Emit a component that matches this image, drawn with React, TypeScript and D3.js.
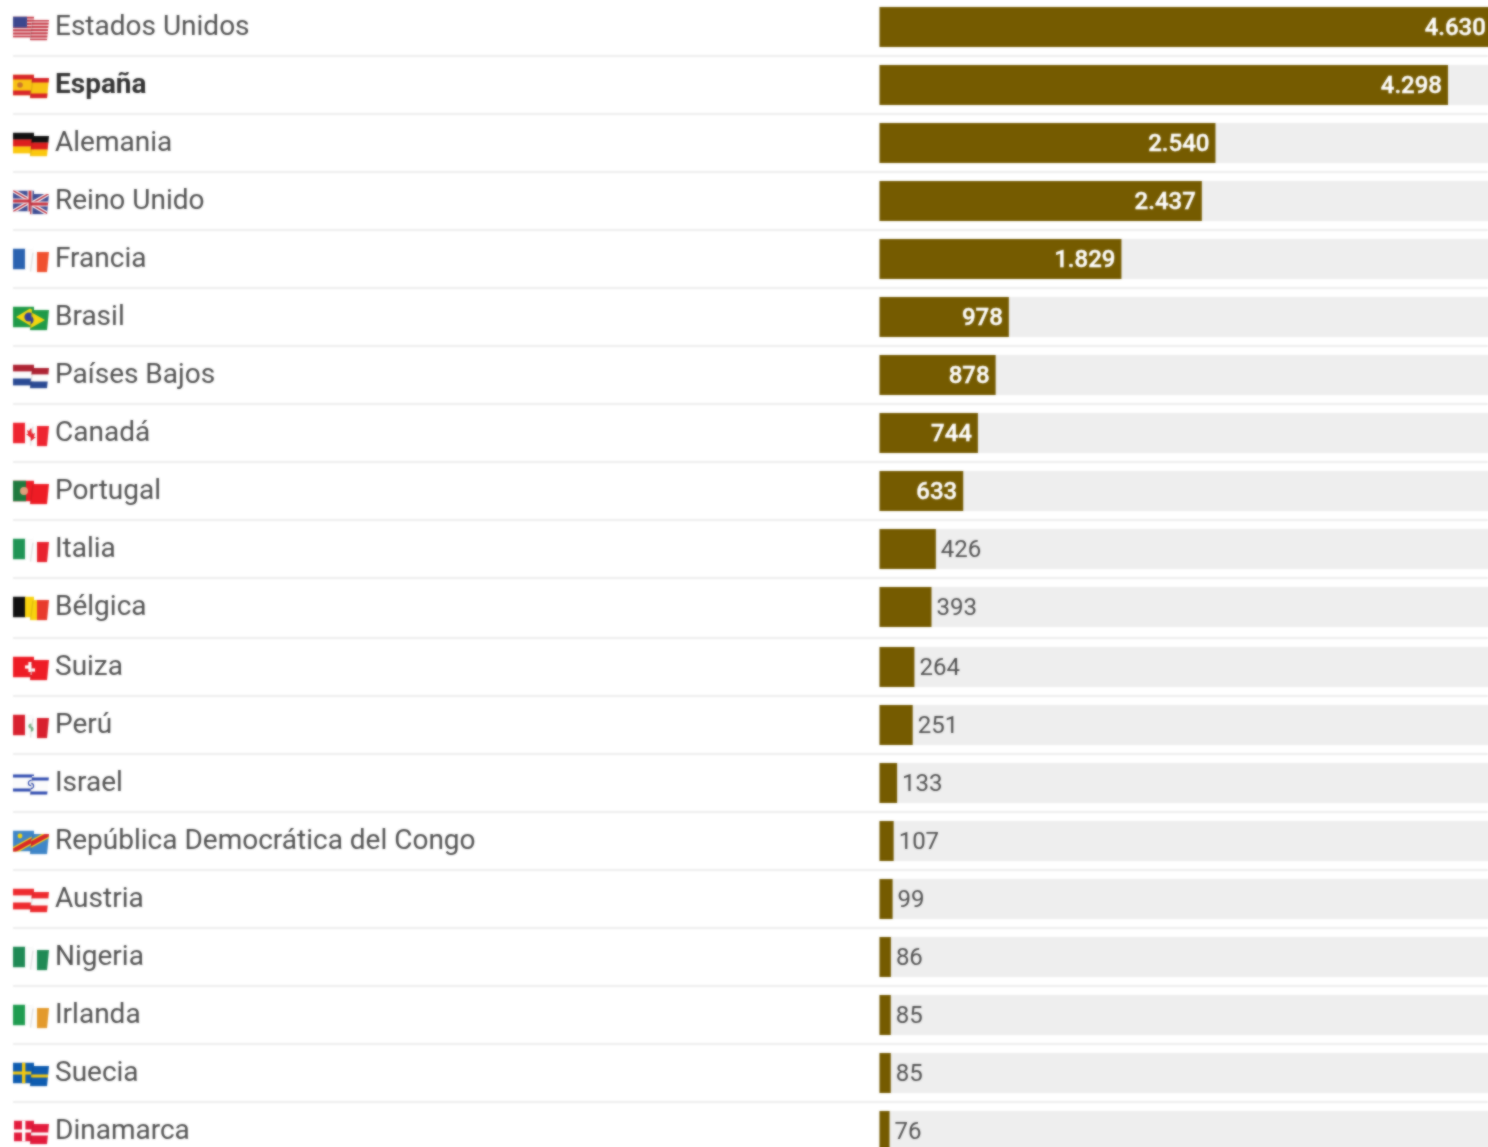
import React from "react";
import * as d3 from "d3";

const countries = ["Estados Unidos","España","Alemania","Reino Unido","Francia","Brasil","Países Bajos","Canadá","Portugal","Italia","Bélgica","Suiza","Perú","Israel","República Democrática del Congo","Austria","Nigeria","Irlanda","Suecia","Dinamarca"];
const values = [4630,4298,2540,2437,1829,978,878,744,633,426,393,264,251,133,107,99,86,85,85,76];
const highlighted = "España";
const flagKinds = ["us","es","de","uk","fr","br","nl","ca","pt","it","be","ch","pe","il","cd","at","ng","ie","se","dk"];
const verticalFlags: Record<string,string[]> = {
  fr:["#2a62b0","#fbfbfb","#f0502e"], it:["#1f9455","#fbfbfb","#e8222e"], be:["#111111","#f8d20f","#e83a2c"],
  ng:["#1f8a55","#fbfbfb","#1f8a55"], ie:["#1f9c50","#fbfbfb","#e39a2c"], ca:["#ee2430","#fbfbfb","#ee2430"], pe:["#d8202e","#fbfbfb","#d8202e"],
};
const horizontalFlags: Record<string,string[]> = {
  de:["#111111","#dd1f1f","#fbc80e"], nl:["#ae2333","#fbfbfb","#2a4a94"], at:["#ee2a2e","#fbfbfb","#ee2a2e"],
};

const TEXT = "#505050", BOLD = "#333333", BAR = "#755b00", TRACK = "#eeeeee", RULE = "#eeeeee";
const FONT = "Roboto, sans-serif";

const x = d3.scaleLinear().domain([0, 4298]).range([879.5, 1448]);
const y = d3.scaleLinear().domain([0, 10, 11, 19]).range([27, 607, 667, 1131]);

const L = 13, W = 36, T = -10, H = 21;

function FlagContent({ kind }: { kind: string }) {
  const v = verticalFlags[kind];
  const h = horizontalFlags[kind];
  const cx = 30, cy = T + H / 2;
  const base: React.ReactNode[] = [];
  if (v) v.forEach((c, i) => base.push(<rect key={i} x={L + (i * W) / 3} y={T} width={W / 3 + 0.3} height={H} fill={c} />));
  if (h) h.forEach((c, i) => base.push(<rect key={i} x={L} y={T + (i * H) / 3} width={W} height={H / 3 + 0.3} fill={c} />));
  if (base.length && kind !== "ca" && kind !== "pe") return <>{base}</>;
  switch (kind) {
    case "ca":
      return <>{base}<path d={`M${cx + 1},${cy - 5} l2,3 2,-1 -1,4 2,0 -5,4 -5,-4 2,0 -1,-4 2,1 z`} fill="#ee2430" /></>;
    case "pe":
      return <>{base}<circle cx={cx + 1} cy={cy + 1} r={2.6} fill="#7db48a" /></>;
    case "us":
      return <>
        <rect x={L} y={T} width={W} height={H} fill="#f3e6e6" />
        {d3.range(0, 7).map(i => <rect key={i} x={L} y={T + i * 3.2} width={W} height={2} fill="#c63442" />)}
        <rect x={L} y={T} width={14} height={11} fill="#3c478e" />
      </>;
    case "es":
      return <>
        <rect x={L} y={T} width={W} height={H} fill="#f8c214" />
        <rect x={L} y={T} width={W} height={5} fill="#d8252a" />
        <rect x={L} y={T + 16} width={W} height={5} fill="#d8252a" />
        <circle cx={L + 7} cy={T + 10.5} r={2.8} fill="#c9762c" />
      </>;
    case "uk":
      return <>
        <rect x={L} y={T} width={W} height={H} fill="#3d4d94" />
        <path d={`M${L},${T} L${L + W},${T + H} M${L + W},${T} L${L},${T + H}`} stroke="#f4eef0" strokeWidth={4} />
        <path d={`M${L},${T} L${L + W},${T + H} M${L + W},${T} L${L},${T + H}`} stroke="#c8323f" strokeWidth={1.4} />
        <path d={`M${cx},${T} V${T + H} M${L},${cy} H${L + W}`} stroke="#f4eef0" strokeWidth={5} />
        <path d={`M${cx},${T} V${T + H} M${L},${cy} H${L + W}`} stroke="#c8323f" strokeWidth={2.8} />
      </>;
    case "br":
      return <>
        <rect x={L} y={T} width={W} height={H} fill="#1f9a48" />
        <path d={`M${L + 3},${cy} L${cx},${T + 2} L${L + W - 4},${cy} L${cx},${T + H - 2} Z`} fill="#f4d60f" />
        <circle cx={cx - 1} cy={cy} r={4.6} fill="#33409a" />
      </>;
    case "pt":
      return <>
        <rect x={L} y={T} width={W} height={H} fill="#ee1c25" />
        <rect x={L} y={T} width={13} height={H} fill="#1f7a3e" />
        <circle cx={L + 11} cy={cy} r={4} fill="#e0a07c" />
      </>;
    case "ch":
      return <>
        <rect x={L} y={T} width={W} height={H} fill="#ee1c25" />
        <rect x={cx - 5} y={cy - 1.6} width={10} height={3.2} fill="#fff" />
        <rect x={cx - 1.6} y={cy - 5} width={3.2} height={10} fill="#fff" />
      </>;
    case "il":
      return <>
        <rect x={L} y={T} width={W} height={H} fill="#fbfbfb" />
        <rect x={L} y={T + 2} width={W} height={3} fill="#2f4bb0" />
        <rect x={L} y={T + 16} width={W} height={3} fill="#2f4bb0" />
        <circle cx={cx + 1} cy={cy} r={2.6} fill="none" stroke="#2f4bb0" strokeWidth={1.2} />
      </>;
    case "cd":
      return <>
        <rect x={L} y={T} width={W} height={H} fill="#3f86c8" />
        <path d={`M${L - 1},${T + H} L${L + W + 1},${T}`} stroke="#f4d60f" strokeWidth={7} />
        <path d={`M${L - 1},${T + H} L${L + W + 1},${T}`} stroke="#d8252a" strokeWidth={4.4} />
        <circle cx={L + 7} cy={T + 5.5} r={2.4} fill="#f4d60f" />
      </>;
    case "se":
      return <>
        <rect x={L} y={T} width={W} height={H} fill="#0e5cb0" />
        <rect x={L} y={cy - 1.5} width={W} height={3} fill="#f4c810" />
        <rect x={L + 9} y={T} width={3.4} height={H} fill="#f4c810" />
      </>;
    case "dk":
      return <>
        <rect x={L + 1} y={T} width={W - 1} height={H} fill="#e31b3c" />
        <rect x={L} y={cy - 1.5} width={W} height={3} fill="#fff" />
        <rect x={L + 9} y={T} width={3.4} height={H} fill="#fff" />
      </>;
    default:
      return null;
  }
}

function Flag({ kind, id }: { kind: string; id: number }) {
  const left = `flag-l-${id}`, right = `flag-r-${id}`;
  return <g>
    <clipPath id={left}><rect x={L} y={T} width={21} height={H} /></clipPath>
    <clipPath id={right}><polygon points={`${L + 19},${T + 3.5} ${L + W},${T + 3.5} ${L + W - 2},${T + 24} ${L + 17},${T + 24}`} /></clipPath>
    <g clipPath={`url(#${left})`}><FlagContent kind={kind} /></g>
    <g clipPath={`url(#${right})`}><g transform="translate(0,3)"><FlagContent kind={kind} /></g></g>
    <line x1={L + 20} y1={T + 4} x2={L + 17.5} y2={T + 23} stroke="#000" strokeOpacity={0.1} strokeWidth={1.4} />
  </g>;
}

export default function App() {
  const k = x(0);
  return (
    <svg width={1488} height={1147} viewBox="0 0 1488 1147"
      style={{ position: "absolute", left: 0, top: 0, display: "block", background: "#fff" }} fontFamily={FONT}>
      <defs>
        <filter id="soft" filterUnits="userSpaceOnUse" x="0" y="0" width="1488" height="1147" colorInterpolationFilters="sRGB">
          <feGaussianBlur in="SourceGraphic" stdDeviation="0.8" result="b" />
          <feComposite in="b" in2="SourceGraphic" operator="arithmetic" k1="0" k2="0.7" k3="0.3" k4="0" />
        </filter>
      </defs>
      <g filter="url(#soft)">
        {countries.map((name, i) => {
          const cy = y(i);
          const barEnd = x(values[i]);
          const inside = values[i] >= 500;
          const bold = name === highlighted;
          return (
            <g key={name}>
              {i < countries.length - 1 && (
                <line x1={13} x2={1488} y1={y(i + 1) - 29} y2={y(i + 1) - 29} stroke={RULE} strokeWidth={2} />
              )}
              <rect x={k} y={cy - 20} width={x(4630) - k} height={40} fill={TRACK} />
              <rect x={k} y={cy - 20} width={barEnd - k} height={40} fill={BAR} />
              <g transform={`translate(0,${cy - 0.5})`}>
                <Flag kind={flagKinds[i]} id={i} />
              </g>
              <text x={55} y={cy + 8} fontSize={28} fontWeight={bold ? 700 : 400} fill={bold ? BOLD : TEXT}>{name}</text>
              <text x={inside ? barEnd - 6 : barEnd + 5} y={cy + 8} fontSize={24}
                textAnchor={inside ? "end" : "start"} fontWeight={inside ? 500 : 400}
                stroke={inside ? "#fff" : "none"} strokeWidth={inside ? 0.4 : 0}
                fill={inside ? "#fff" : TEXT}>{d3.format(",")(values[i]).replace(/,/g, ".")}</text>
            </g>
          );
        })}
      </g>
    </svg>
  );
}
